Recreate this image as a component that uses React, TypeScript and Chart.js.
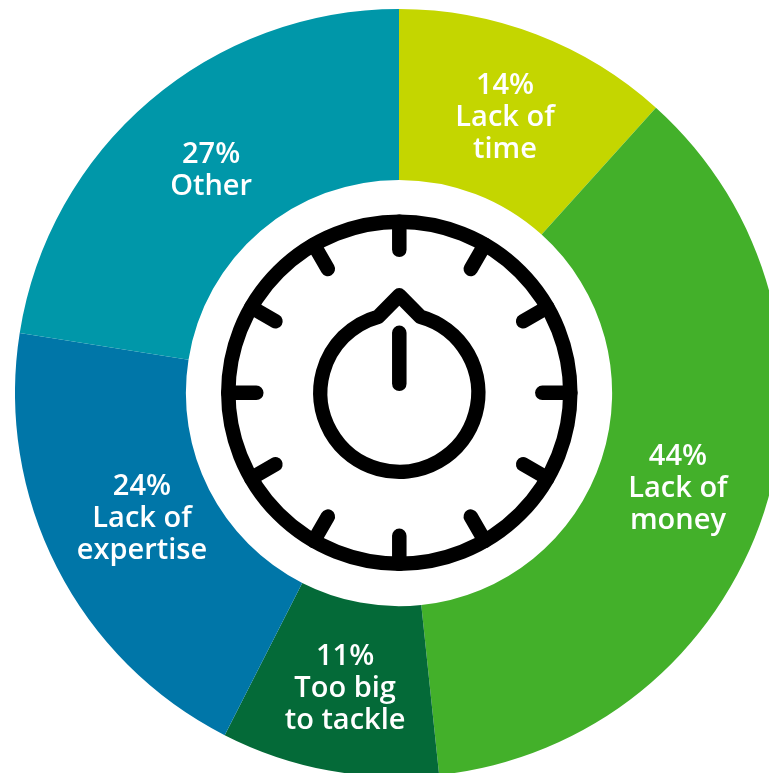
import React, { useEffect, useRef } from "react";
import { Chart, registerables } from "chart.js";

Chart.register(...registerables);

// Survey shares, as printed; the respondents could pick several answers.
const shares = [14, 44, 11, 24, 27];
const categoryLines = [
  ["Lack of", "time"],
  ["Lack of", "money"],
  ["Too big", "to tackle"],
  ["Lack of", "expertise"],
  ["Other"],
];
const sliceColors = ["#C4D600", "#43B02A", "#046A38", "#0076A8", "#0097A9"];

// Small nudges that settle each caption inside its ring segment.
const captionNudge: [number, number][] = [
  [-1, 3],
  [-5, 3],
  [0.5, 2],
  [9, -10],
  [6, 5],
];

const FONT = '600 29px "Open Sans", sans-serif';
const LINE_HEIGHT = 32;

// Writes the percentage and category name on every segment.
const captionPlugin = {
  id: "captions",
  afterDatasetsDraw(chart: any) {
    const { ctx } = chart;
    const arcs = chart.getDatasetMeta(0).data;
    ctx.save();
    ctx.font = FONT;
    ctx.fillStyle = "#ffffff";
    ctx.textAlign = "center";
    ctx.textBaseline = "middle";
    arcs.forEach((arc: any, i: number) => {
      const c = arc.getCenterPoint();
      const lines = [`${shares[i]}%`, ...categoryLines[i]];
      const x = c.x + captionNudge[i][0];
      const top = c.y + captionNudge[i][1] - ((lines.length - 1) * LINE_HEIGHT) / 2;
      lines.forEach((line, j) => ctx.fillText(line, x, top + j * LINE_HEIGHT));
    });
    ctx.restore();
  },
};

// Stopwatch-style dial in the hole of the ring.
const dialPlugin = {
  id: "dial",
  afterDatasetsDraw(chart: any) {
    const { ctx } = chart;
    const first = chart.getDatasetMeta(0).data[0];
    const cx = first.x + 0.3;
    const cy = first.y - 0.2;
    ctx.save();
    ctx.translate(cx, cy);
    ctx.strokeStyle = "#000000";
    ctx.lineWidth = 14.5;
    ctx.lineCap = "round";
    ctx.lineJoin = "round";

    ctx.beginPath();
    ctx.arc(0, 0, 171, 0, Math.PI * 2);
    ctx.stroke();

    for (let h = 0; h < 12; h++) {
      const a = (h * Math.PI) / 6;
      ctx.beginPath();
      ctx.moveTo(Math.sin(a) * 171, -Math.cos(a) * 171);
      ctx.lineTo(Math.sin(a) * 143, -Math.cos(a) * 143);
      ctx.stroke();
    }

    // Knob body with its pointed top.
    const knobR = 79;
    const gap = (15.4 * Math.PI) / 180;
    const tipY = -97.5;
    ctx.beginPath();
    ctx.arc(0, 0, knobR, -Math.PI / 2 + gap, -Math.PI / 2 - gap + Math.PI * 2);
    ctx.lineTo(0, tipY);
    ctx.closePath();
    ctx.stroke();

    // Needle.
    ctx.beginPath();
    ctx.moveTo(0, -60);
    ctx.lineTo(0, -9);
    ctx.stroke();
    ctx.restore();
  },
};

export default function App() {
  const ref = useRef<HTMLCanvasElement>(null);

  useEffect(() => {
    document.body.style.margin = "0";
    document.body.style.overflow = "hidden";
    const chart = new Chart(ref.current!, {
      type: "doughnut",
      data: {
        labels: categoryLines.map((l) => l.join(" ")),
        datasets: [
          {
            data: shares,
            backgroundColor: sliceColors,
            borderWidth: 0,
          },
        ],
      },
      options: {
        responsive: false,
        animation: false,
        cutout: "55.5%",
        rotation: 0,
        layout: { padding: 0 },
        plugins: {
          legend: { display: false },
          tooltip: { enabled: false },
        },
      },
      plugins: [captionPlugin, dialPlugin],
    });
    return () => chart.destroy();
  }, []);

  return (
    <div
      style={{
        position: "fixed",
        left: 0,
        top: 0,
        width: 769,
        height: 773,
        overflow: "hidden",
        background: "#ffffff",
      }}
    >
      <canvas
        ref={ref}
        width={768}
        height={768}
        style={{ position: "absolute", left: 15, top: 9, width: 768, height: 768 }}
      />
    </div>
  );
}
